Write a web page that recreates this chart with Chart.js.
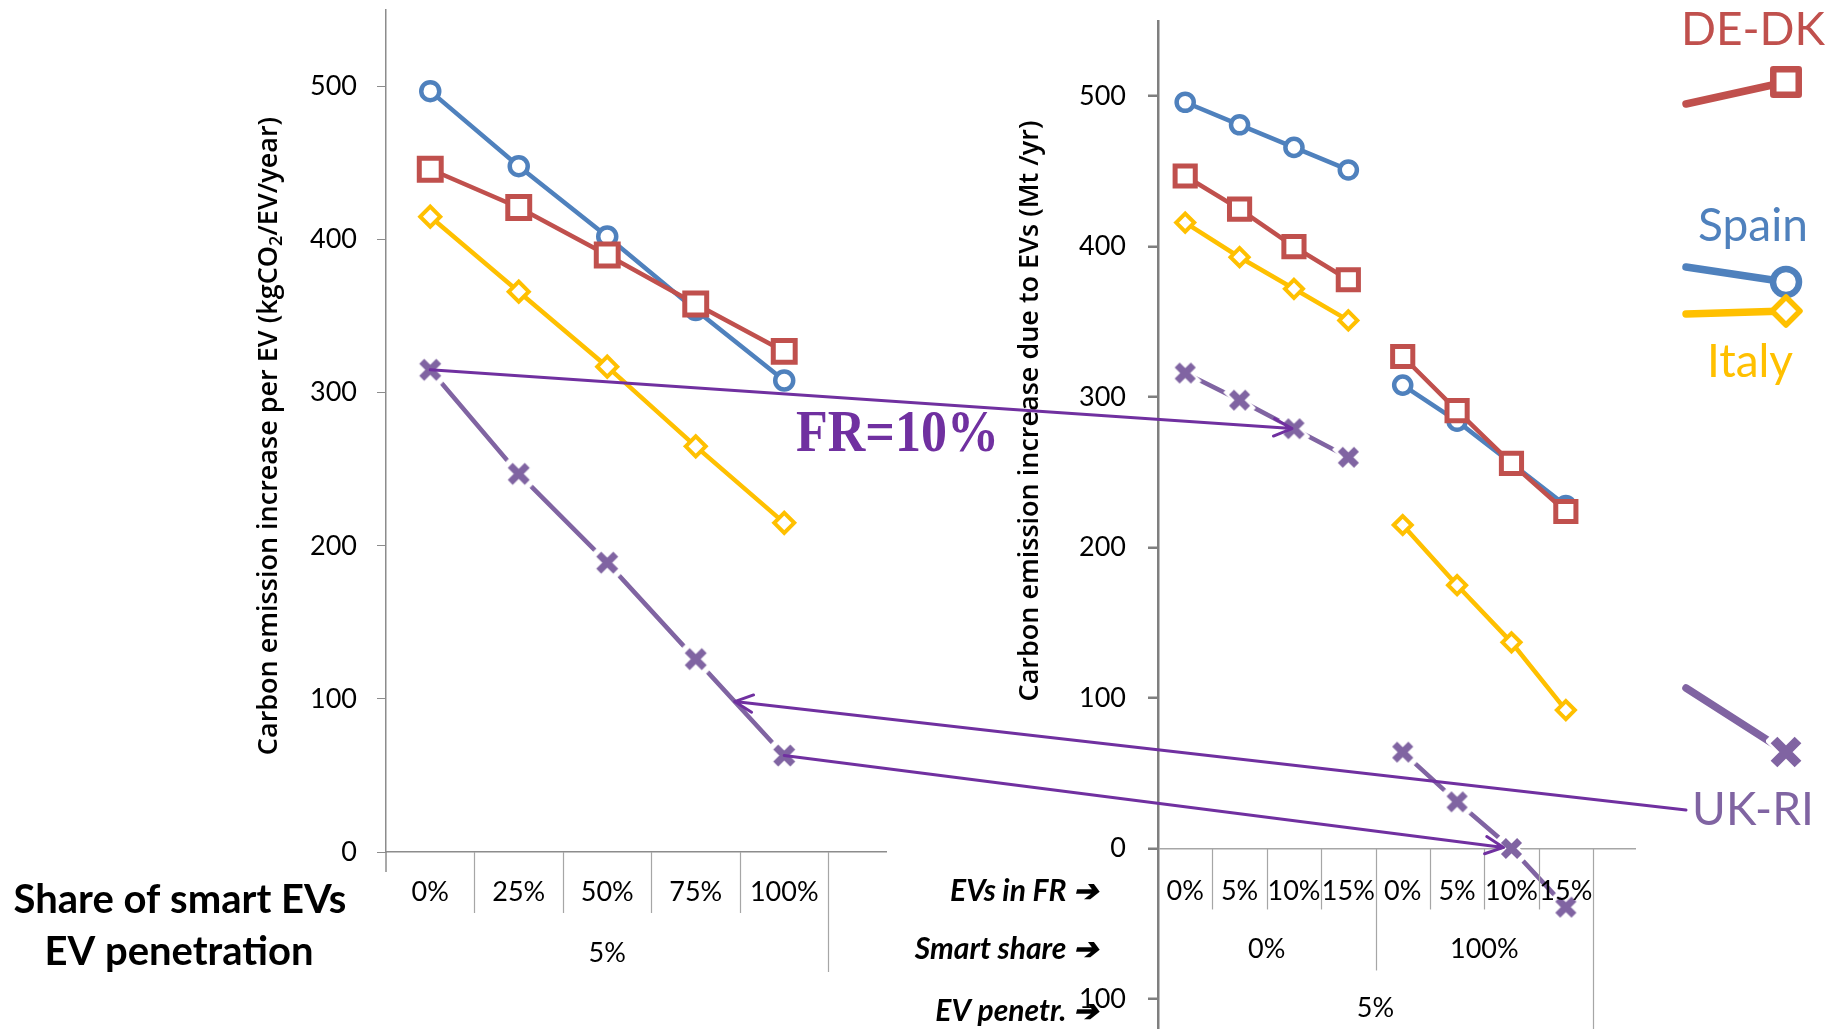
<!DOCTYPE html>
<html>
<head>
<meta charset="utf-8">
<title>Carbon emission increase due to EVs</title>
<script src="https://cdn.jsdelivr.net/npm/chart.js@4.4.1/dist/chart.umd.min.js"></script>
<style>
  html, body { margin: 0; padding: 0; background: #fff; }
  #wrap { position: relative; width: 1836px; height: 1029px; overflow: hidden; }
  canvas { position: absolute; left: 0; top: 0; }
</style>
</head>
<body>
<div id="wrap">
  <canvas id="perEv" width="1836" height="1029"></canvas>
  <canvas id="total" width="1836" height="1029"></canvas>
</div>
<script>
// left panel: emission per EV vs share of smart EVs (5% penetration)
const smartShares = ['0%', '25%', '50%', '75%', '100%'];
const penetrationLeft = ['5%'];
const perEvSpain = [497, 448, 402, 354, 308];
const perEvDeDk  = [446, 421, 390, 358, 327];
const perEvItaly = [415, 366, 317, 265, 215];
const perEvUkRi  = [315, 247, 189, 126, 63];
const perEvTicks = [0, 100, 200, 300, 400, 500];

// right panel: total emission vs share of EVs doing frequency regulation
const evsInFr = ['0%', '5%', '10%', '15%', '0%', '5%', '10%', '15%'];
const smartShareGroups = ['0%', '100%'];
const penetrationRight = ['5%'];
const totalSpain = [496, 481, 466, 451, 308, 284, 256, 228];
const totalDeDk  = [447, 425, 400, 378, 327, 291, 256, 224];
const totalItaly = [416, 393, 372, 351, 215, 175, 137, 92];
const totalUkRi  = [316, 298, 279, 260, 64, 31, 0, -39];
const totalTicks = [-100, 0, 100, 200, 300, 400, 500];

const BLUE = '#4F81BD', RED = '#C0504D', GOLD = '#FFC000', PURPLE = '#8064A2';
const ARROW = '#7030A0', AXIS = '#8C8C8C', SEP = '#A6A6A6';
const TICK_FONT = { family: 'Lato', size: 27 };

// chunky X marker with a white halo, like the Excel one
function crossMarker(arm, width) {
    const size = Math.ceil((arm + 8) * 2);
    const c = document.createElement('canvas');
    c.width = c.height = size;
    const g = c.getContext('2d');
    const m = size / 2;
    [['#fff', arm + 4, width + 5], [PURPLE, arm, width]].forEach(([col, a, w]) => {
        g.strokeStyle = col;
        g.lineWidth = w;
        g.beginPath();
        g.moveTo(m - a, m - a); g.lineTo(m + a, m + a);
        g.moveTo(m + a, m - a); g.lineTo(m - a, m + a);
        g.stroke();
    });
    return c;
}

const STYLES = {
    rect: { radius: 15.5, border: 5 },
    circle: { radius: 9, border: 4.5 },
    rectRot: { radius: 10, border: 4 }
};

function series(label, values, color, style, scale, gapAfter) {
    const ds = {
        label: label,
        data: values.map((v, i) => ({ x: i, y: v })),
        borderColor: color,
        borderWidth: 4.5,
        pointBorderColor: color,
        pointBackgroundColor: '#fff'
    };
    if (style === 'cross') {
        ds.pointStyle = crossMarker(8.5 * scale, 7);
        ds.pointRadius = 10;
    } else {
        ds.pointStyle = style;
        ds.pointRadius = STYLES[style].radius * scale;
        ds.pointBorderWidth = STYLES[style].border;
    }
    if (gapAfter !== undefined) {
        ds.segment = { borderColor: c => c.p0DataIndex === gapAfter ? 'rgba(0,0,0,0)' : undefined };
    }
    return ds;
}

// separators and label rows under the x axis, plus the vertical axis title
const categoryTable = {
    id: 'catTable',
    afterDraw(chart, args, opts) {
        const { ctx } = chart;
        const xs = chart.scales.x;
        const base = chart.scales.y.getPixelForValue(0);
        ctx.save();
        ctx.strokeStyle = SEP;
        ctx.lineWidth = 1.2;
        opts.separators.forEach(([pos, depth]) => {
            const px = Math.round(xs.getPixelForValue(pos)) + 0.5;
            ctx.beginPath();
            ctx.moveTo(px, base);
            ctx.lineTo(px, base + depth);
            ctx.stroke();
        });
        if (opts.axisExtension) {
            ctx.strokeStyle = AXIS;
            ctx.lineWidth = 1.5;
            const px = xs.getPixelForValue(-0.5);
            ctx.beginPath();
            ctx.moveTo(px, base);
            ctx.lineTo(px, base + opts.axisExtension);
            ctx.stroke();
        }
        ctx.fillStyle = '#000';
        ctx.textBaseline = 'middle';
        opts.rows.forEach(row => {
            ctx.font = '27px Lato';
            ctx.textAlign = 'center';
            row.labels.forEach((lab, k) => {
                const mid = k * row.span + (row.span - 1) / 2;
                ctx.fillText(lab, xs.getPixelForValue(mid), base + row.offset);
            });
            if (row.title) {
                ctx.font = row.title.font;
                ctx.textAlign = row.title.align;
                ctx.fillText(row.title.text, row.title.x, base + row.offset + (row.title.dy || 0));
            }
        });
        const t = opts.axisTitle;
        ctx.translate(t.x, t.y);
        ctx.rotate(-Math.PI / 2);
        ctx.textAlign = 'left';
        const subFont = t.font.replace(/\d+px/, m => Math.round(parseInt(m) * 0.65) + 'px');
        let total = 0;
        t.parts.forEach(p => {
            ctx.font = p.sub ? subFont : t.font;
            total += ctx.measureText(p.text).width;
        });
        let cx = -total / 2;
        t.parts.forEach(p => {
            ctx.font = p.sub ? subFont : t.font;
            ctx.fillText(p.text, cx, p.sub ? 8 : 0);
            cx += ctx.measureText(p.text).width;
        });
        ctx.restore();
    }
};

const perEvChart = new Chart(document.getElementById('perEv'), {
    type: 'line',
    data: {
        datasets: [
            series('DE-DK', perEvDeDk, RED, 'rect', 1),
            series('Spain', perEvSpain, BLUE, 'circle', 1),
            series('Italy', perEvItaly, GOLD, 'rectRot', 1),
            series('UK-RI', perEvUkRi, PURPLE, 'cross', 1)
        ]
    },
    options: {
        responsive: false,
        animation: false,
        devicePixelRatio: 1,
        events: [],
        layout: { autoPadding: false, padding: { left: 306, top: 10, right: 950, bottom: 177 } },
        plugins: {
            legend: { display: false },
            tooltip: { enabled: false },
            catTable: {
                separators: [[0.5, 61], [1.5, 61], [2.5, 61], [3.5, 61], [4.5, 120]],
                axisExtension: 20,
                rows: [
                    { labels: smartShares, span: 1, offset: 40,
                      title: { text: 'Share of smart EVs', font: 'bold 40px Lato', align: 'center', x: 180, dy: 8 } },
                    { labels: penetrationLeft, span: 5, offset: 101,
                      title: { text: 'EV penetration', font: 'bold 40px Lato', align: 'center', x: 179, dy: -1 } }
                ],
                axisTitle: {
                    x: 269, y: 436, font: '600 27px "Open Sans"',
                    parts: [{ text: 'Carbon emission increase per EV (kgCO' }, { text: '2', sub: true }, { text: '/EV/year)' }]
                }
            }
        },
        scales: {
            x: {
                type: 'linear', min: -0.5, max: 5.15,
                ticks: { display: false },
                grid: { display: false },
                border: { display: true, color: AXIS, width: 1.5 },
                afterFit: s => { s.height = 0; s.paddingLeft = 0; s.paddingRight = 0; }
            },
            y: {
                min: 0, max: 550,
                afterBuildTicks: s => { s.ticks = perEvTicks.map(v => ({ value: v })); },
                afterFit: s => { s.width = 80; s.paddingTop = 0; s.paddingBottom = 0; },
                grid: { drawOnChartArea: false, tickLength: 9, color: AXIS },
                border: { color: AXIS, width: 1.5 },
                ticks: { font: TICK_FONT, color: '#000', padding: 20 }
            }
        }
    },
    plugins: [categoryTable]
});

function arrow(ctx, x0, y0, x1, y1, trim) {
    const a = Math.atan2(y1 - y0, x1 - x0);
    x1 -= Math.cos(a) * trim;
    y1 -= Math.sin(a) * trim;
    const h = 20, w = 0.45;
    ctx.beginPath();
    ctx.moveTo(x0, y0);
    ctx.lineTo(x1, y1);
    ctx.moveTo(x1 - h * Math.cos(a - w), y1 - h * Math.sin(a - w));
    ctx.lineTo(x1, y1);
    ctx.lineTo(x1 - h * Math.cos(a + w), y1 - h * Math.sin(a + w));
    ctx.stroke();
}

const legendCross = crossMarker(12, 9.5);

// arrows, FR annotation and the hand-made legend on top of both panels
const overlay = {
    id: 'overlay',
    afterDraw(chart) {
        const { ctx } = chart;
        const left = perEvChart.getDatasetMeta(3).data;
        const right = chart.getDatasetMeta(3).data;
        ctx.save();
        ctx.lineCap = 'round';
        ctx.lineJoin = 'round';

        const swatches = [
            { color: RED, style: 'rect', r: 18, bw: 6.5, from: [1686, 104], to: [1786, 82] },
            { color: BLUE, style: 'circle', r: 13, bw: 6.5, from: [1686, 267], to: [1786, 282] },
            { color: GOLD, style: 'rectRot', r: 14, bw: 5.5, from: [1686, 314], to: [1786, 311] },
            { color: PURPLE, style: legendCross, r: 20, bw: 1, from: [1686, 688], to: [1786, 752] }
        ];
        swatches.forEach(s => {
            ctx.strokeStyle = s.color;
            ctx.lineWidth = 7.5;
            ctx.beginPath();
            ctx.moveTo(s.from[0], s.from[1]);
            ctx.lineTo(s.to[0], s.to[1]);
            ctx.stroke();
            ctx.fillStyle = '#fff';
            ctx.lineWidth = s.bw;
            Chart.helpers.drawPoint(ctx, { pointStyle: s.style, radius: s.r, borderWidth: s.bw, rotation: 0 }, s.to[0], s.to[1]);
        });
        ctx.font = '46px Lato';
        ctx.textAlign = 'center';
        ctx.textBaseline = 'middle';
        [['DE-DK', RED, 1753, 30], ['Spain', BLUE, 1753, 226], ['Italy', GOLD, 1750, 362], ['UK-RI', PURPLE, 1753, 810]]
            .forEach(([txt, col, x, y]) => { ctx.fillStyle = col; ctx.fillText(txt, x, y); });

        ctx.strokeStyle = ARROW;
        ctx.lineWidth = 3;
        arrow(ctx, left[0].x, left[0].y, right[2].x, right[2].y, 2);
        arrow(ctx, left[4].x, left[4].y, right[6].x, right[6].y, 8);
        const t = 0.44;
        const tx = left[3].x + (left[4].x - left[3].x) * t;
        const ty = left[3].y + (left[4].y - left[3].y) * t;
        arrow(ctx, 1686, 810, tx, ty, 0);

        // the label is a little taller than plain Times bold
        ctx.fillStyle = ARROW;
        ctx.font = 'bold 52px "Liberation Serif"';
        ctx.textAlign = 'left';
        ctx.translate(796, 436);
        ctx.scale(1, 1.12);
        ctx.fillText('FR=10%', 0, 0);
        ctx.restore();
    }
};

const totalChart = new Chart(document.getElementById('total'), {
    type: 'line',
    data: {
        datasets: [
            series('DE-DK', totalDeDk, RED, 'rect', 0.92, 3),
            series('Spain', totalSpain, BLUE, 'circle', 0.95, 3),
            series('Italy', totalItaly, GOLD, 'rectRot', 0.9, 3),
            series('UK-RI', totalUkRi, PURPLE, 'cross', 0.95, 3)
        ]
    },
    options: {
        responsive: false,
        animation: false,
        devicePixelRatio: 1,
        events: [],
        layout: { autoPadding: false, padding: { left: 1078, top: 21, right: 200, bottom: 0 } },
        plugins: {
            legend: { display: false },
            tooltip: { enabled: false },
            catTable: {
                separators: [[0.5, 61], [1.5, 61], [2.5, 61], [3.5, 122], [4.5, 61], [5.5, 61], [6.5, 61], [7.5, 200]],
                rows: [
                    { labels: evsInFr, span: 1, offset: 43,
                      title: { text: 'EVs in FR \u2794', font: 'italic bold 30px Lato', align: 'right', x: 1098 } },
                    { labels: smartShareGroups, span: 4, offset: 101,
                      title: { text: 'Smart share \u2794', font: 'italic bold 30px Lato', align: 'right', x: 1098 } },
                    { labels: penetrationRight, span: 8, offset: 160,
                      title: { text: 'EV penetr. \u2794', font: 'italic bold 30px Lato', align: 'right', x: 1098, dy: 3 } }
                ],
                axisTitle: {
                    x: 1030, y: 411, font: '600 27px "Open Sans"',
                    parts: [{ text: 'Carbon emission increase due to EVs (Mt /yr)' }]
                }
            }
        },
        scales: {
            x: {
                type: 'linear', min: -0.5, max: 8.29,
                ticks: { display: false },
                grid: { display: false },
                border: { display: false },
                afterFit: s => { s.height = 0; s.paddingLeft = 0; s.paddingRight = 0; }
            },
            y: {
                min: -120, max: 550,
                afterBuildTicks: s => { s.ticks = totalTicks.map(v => ({ value: v })); },
                afterFit: s => { s.width = 80; s.paddingTop = 0; s.paddingBottom = 0; },
                grid: {
                    drawOnChartArea: true, tickLength: 10, tickColor: '#7F7F7F', tickWidth: 2.5,
                    color: c => c.tick && c.tick.value === 0 ? SEP : 'rgba(0,0,0,0)',
                    lineWidth: 1.5
                },
                border: { color: '#7F7F7F', width: 2.5 },
                ticks: { font: TICK_FONT, color: '#000', padding: 22 }
            }
        }
    },
    plugins: [categoryTable, overlay]
});
</script>
</body>
</html>
